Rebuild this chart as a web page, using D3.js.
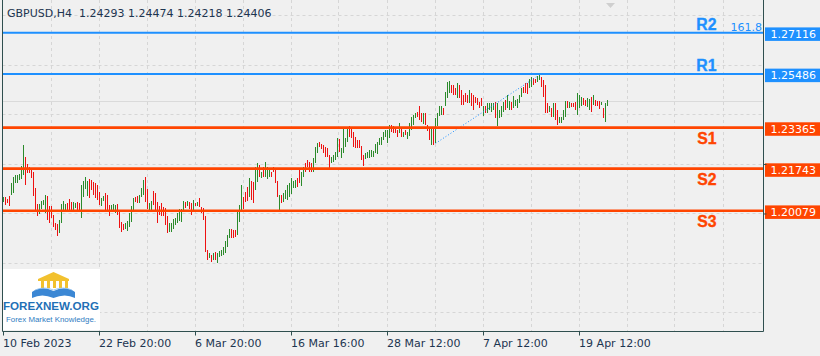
<!DOCTYPE html>
<html><head><meta charset="utf-8">
<script src="https://cdn.jsdelivr.net/npm/d3@7"></script>
<style>
html,body{margin:0;padding:0;background:#f0f0f0;}
svg{display:block;}
</style></head><body>
<svg id="c" width="820" height="356"></svg>
<script>
// ---------- data ----------
const symbolTitle = "GBPUSD,H4";
const lastOHLC = ["1.24293", "1.24474", "1.24218", "1.24406"];
const bidPrice = 1.24406;

const highs = [
1.2064,1.2064,1.2053,1.2067,1.2116,1.2143,1.2149,1.2149,1.2152,1.2185,
1.2267,1.2222,1.2191,1.2182,1.2169,1.2162,1.2096,1.2034,1.2034,1.2046,
1.2050,1.2069,1.2066,1.2026,1.2026,1.1991,1.1958,1.1954,1.1971,1.2034,
1.2046,1.2034,1.2039,1.2054,1.2043,1.2043,1.2039,1.2043,1.2039,1.2109,
1.2126,1.2143,1.2126,1.2133,1.2129,1.2122,1.2118,1.2109,1.2083,1.2057,
1.2067,1.2077,1.2069,1.2030,1.2030,1.2033,1.2030,1.2034,1.2011,1.1964,
1.1954,1.1960,1.1967,1.1998,1.2026,1.2057,1.2064,1.2066,1.2070,1.2096,
1.2129,1.2143,1.2092,1.2037,1.2047,1.2086,1.2077,1.2043,1.2026,1.2037,
1.2021,1.2017,1.1985,1.1960,1.1958,1.1974,1.1978,1.1998,1.2013,1.2013,
1.2047,1.2043,1.2047,1.2043,1.2037,1.2050,1.2039,1.2043,1.2060,1.2024,
1.2017,1.1985,1.1853,1.1840,1.1833,1.1842,1.1846,1.1840,1.1850,1.1853,
1.1866,1.1889,1.1912,1.1935,1.1935,1.1932,1.1932,1.2004,1.2030,1.2109,
1.2064,1.2083,1.2103,1.2136,1.2125,1.2122,1.2182,1.2197,1.2188,1.2162,
1.2182,1.2201,1.2182,1.2175,1.2162,1.2182,1.2175,1.2125,1.2070,1.2070,
1.2079,1.2090,1.2109,1.2118,1.2136,1.2125,1.2129,1.2139,1.2171,1.2162,
1.2182,1.2197,1.2208,1.2201,1.2195,1.2215,1.2261,1.2276,1.2280,1.2270,
1.2267,1.2261,1.2254,1.2228,1.2219,1.2228,1.2239,1.2294,1.2290,1.2254,
1.2338,1.2294,1.2334,1.2341,1.2330,1.2320,1.2301,1.2287,1.2287,1.2263,
1.2228,1.2235,1.2239,1.2248,1.2248,1.2245,1.2271,1.2280,1.2294,1.2301,
1.2320,1.2327,1.2327,1.2347,1.2347,1.2341,1.2338,1.2327,1.2356,1.2334,
1.2320,1.2327,1.2320,1.2355,1.2377,1.2386,1.2395,1.2399,1.2422,1.2395,
1.2396,1.2393,1.2347,1.2335,1.2330,1.2334,1.2374,1.2393,1.2422,1.2420,
1.2413,1.2478,1.2518,1.2522,1.2505,1.2505,1.2492,1.2512,1.2505,1.2485,
1.2465,1.2472,1.2465,1.2485,1.2472,1.2465,1.2458,1.2452,1.2439,1.2452,
1.2420,1.2422,1.2433,1.2435,1.2433,1.2433,1.2439,1.2433,1.2406,1.2420,
1.2439,1.2446,1.2465,1.2443,1.2439,1.2462,1.2446,1.2449,1.2465,1.2492,
1.2498,1.2512,1.2514,1.2527,1.2537,1.2531,1.2527,1.2540,1.2548,1.2537,
1.2525,1.2505,1.2433,1.2420,1.2413,1.2433,1.2433,1.2406,1.2380,1.2380,
1.2406,1.2443,1.2443,1.2439,1.2433,1.2433,1.2439,1.2472,1.2465,1.2458,
1.2452,1.2446,1.2452,1.2449,1.2458,1.2465,1.2446,1.2442,1.2442,1.2439,
1.2413,1.2435,1.24474
];
const lows = [
1.2043,1.2030,1.2037,1.2026,1.2070,1.2077,1.2116,1.2118,1.2129,1.2133,
1.2149,1.2109,1.2156,1.2156,1.2139,1.2067,1.2004,1.1985,1.1994,1.2013,
1.2030,1.1998,1.1971,1.1960,1.1978,1.1945,1.1932,1.1909,1.1919,1.1960,
1.2008,1.2008,1.2004,1.2011,1.2011,1.2011,1.2017,1.2004,1.2004,1.1978,
1.2064,1.2092,1.2066,1.2057,1.2090,1.2070,1.2057,1.2050,1.2030,1.2026,
1.2046,1.2011,1.2004,1.1987,1.2004,1.2004,1.2000,1.1991,1.1941,1.1925,
1.1932,1.1934,1.1929,1.1945,1.1964,1.2004,1.2043,1.2039,1.2039,1.2064,
1.2070,1.2043,1.2013,1.2008,1.2011,1.2030,1.2011,1.1960,1.1991,1.1985,
1.1987,1.1951,1.1921,1.1925,1.1923,1.1934,1.1951,1.1958,1.1968,1.1964,
1.2004,1.2017,1.2026,1.2014,1.1991,1.2004,1.2026,1.2026,1.2024,1.2000,
1.1971,1.1846,1.1813,1.1820,1.1806,1.1813,1.1813,1.1800,1.1823,1.1827,
1.1833,1.1840,1.1866,1.1899,1.1899,1.1899,1.1903,1.1912,1.1964,1.2004,
1.2013,1.2043,1.2047,1.2064,1.2050,1.2039,1.2090,1.2122,1.2143,1.2136,
1.2143,1.2143,1.2133,1.2143,1.2143,1.2162,1.2116,1.2064,1.2008,1.2037,
1.2043,1.2053,1.2050,1.2061,1.2074,1.2096,1.2096,1.2103,1.2116,1.2105,
1.2143,1.2162,1.2182,1.2162,1.2162,1.2162,1.2195,1.2235,1.2261,1.2250,
1.2237,1.2222,1.2219,1.2175,1.2195,1.2201,1.2208,1.2219,1.2241,1.2215,
1.2235,1.2261,1.2280,1.2301,1.2294,1.2261,1.2254,1.2254,1.2254,1.2208,
1.2185,1.2211,1.2215,1.2215,1.2222,1.2222,1.2235,1.2232,1.2267,1.2267,
1.2287,1.2301,1.2276,1.2294,1.2320,1.2316,1.2314,1.2301,1.2314,1.2298,
1.2301,1.2307,1.2290,1.2303,1.2327,1.2347,1.2373,1.2380,1.2367,1.2359,
1.2351,1.2347,1.2323,1.2287,1.2267,1.2267,1.2274,1.2341,1.2382,1.2386,
1.2386,1.2420,1.2452,1.2472,1.2472,1.2465,1.2465,1.2452,1.2452,1.2426,
1.2426,1.2439,1.2433,1.2433,1.2422,1.2406,1.2433,1.2426,1.2413,1.2420,
1.2382,1.2393,1.2395,1.2406,1.2399,1.2406,1.2374,1.2341,1.2374,1.2380,
1.2399,1.2406,1.2413,1.2406,1.2406,1.2413,1.2420,1.2413,1.2433,1.2459,
1.2472,1.2472,1.2469,1.2492,1.2498,1.2505,1.2512,1.2518,1.2525,1.2498,
1.2459,1.2393,1.2393,1.2399,1.2380,1.2380,1.2367,1.2347,1.2354,1.2356,
1.2367,1.2380,1.2413,1.2413,1.2417,1.2417,1.2406,1.2386,1.2413,1.2420,
1.2426,1.2420,1.2417,1.2406,1.2399,1.2426,1.2420,1.2422,1.2409,1.2426,
1.2374,1.2360,1.24218
];
// G = bullish bar, R = bearish bar
const barDirection = (
 "GRRRGGGGGG"+"GRRRRRRRGG"+"GGRRRRRRGG"+"GGRRRGGRRG"+"GGGRRRRRRG"+
 "GRRRGGGRRR"+"RGGGGGRRGG"+"GRRGGRRRRR"+"RRRGGGGGGG"+"GRGRRGRGRR"+
 "RRRGRGRGGG"+"GGGGRRRGGG"+"RRRGRRGGRG"+"RGGGRRRRGR"+"GGGGGGGRRG"+
 "GRRRRGGGRR"+"RRRRGGGGRG"+"GGGRRRRRRR"+"RGGGGGGGGG"+"GGGGRRRRGR"+
 "GRGGGGGRRR"+"GRRRGRGGGG"+"RGGGRRRGRR"+"RRRGRRRRRR"+"GRGGGGRGGG"+
 "GRGGRGGGGG"+"RRRGGRRGGR"+"RRRGRGRRGG"+"GGRGRRRGGG"+"RRGGRGRRRG"+
 "RGG").split("");

const timeLabels = ["10 Feb 2023", "22 Feb 20:00", "6 Mar 20:00", "16 Mar 16:00", "28 Mar 12:00", "7 Apr 12:00", "19 Apr 12:00"];
const timeLabelBar = [0, 48, 96, 144, 192, 240, 288];
const gridEveryBars = 24;

const levelNames = ["R2", "R1", "S1", "S2", "S3"];
const levelValues = [1.27116, 1.25486, 1.23365, 1.21743, 1.20079];
const levelTexts = ["1.27116", "1.25486", "1.23365", "1.21743", "1.20079"];
const levelKinds = ["R", "R", "S", "S", "S"];
const fiboText = "161.8";

const gridPrices = [1.27816, 1.25859, 1.23902, 1.21926, 1.19969, 1.18012, 1.16055];
const priceTickMarks = [1.21926, 1.19969];

const trendBars = [216, 267];
const trendPrices = [1.2274, 1.2540];

const logoTitle = "FOREXNEW.ORG";
const logoSub = "Forex Market Knowledge.";

// ---------- drawing ----------
const svg = d3.select("#c");
const W = 820, H = 356;
const plot = {left: 2.5, right: 763.5, top: 0, bottom: 331.5};
const C = {
  bg: "#f0f0f0", frame: "#2f4f4f", grid: "#d6d6d6", text: "#1d3550",
  up: "#2b8a2b", down: "#ee1111", res: "#1e90ff", sup: "#ff4500"
};

svg.append("rect").attr("width", W).attr("height", H).attr("fill", C.bg);

const x = d3.scaleLinear().domain([0, highs.length - 1]).range([3.5, 3.5 + 2 * (highs.length - 1)]);
const y = d3.scaleLinear().domain([1.15323, 1.28409]).range([331, 0]);

// grid (vertical)
const gridBars = d3.range(gridEveryBars, 361, gridEveryBars).filter(i => x(i) < plot.right - 10);
svg.append("g").selectAll("line").data(gridBars).join("line")
  .attr("x1", d => Math.round(x(d)) - 0.5).attr("x2", d => Math.round(x(d)) - 0.5)
  .attr("y1", 0).attr("y2", plot.bottom)
  .attr("stroke", C.grid).attr("stroke-dasharray", "3,3").attr("stroke-width", 1);
// grid (horizontal)
svg.append("g").selectAll("line").data(gridPrices).join("line")
  .attr("x1", plot.left).attr("x2", plot.right)
  .attr("y1", d => Math.round(y(d)) + 0.5).attr("y2", d => Math.round(y(d)) + 0.5)
  .attr("stroke", C.grid).attr("stroke-dasharray", "3,3").attr("stroke-width", 1);

// bid line
svg.append("line").attr("x1", plot.left).attr("x2", plot.right)
  .attr("y1", Math.round(y(bidPrice)) + 0.5).attr("y2", Math.round(y(bidPrice)) + 0.5)
  .attr("stroke", "#dadada").attr("stroke-width", 1);

// logo
const logo = svg.append("g");
logo.append("rect").attr("x", 3).attr("y", 269).attr("width", 97).attr("height", 61).attr("fill", "#ffffff");
logo.append("polygon").attr("points", "38,279 53.5,272 69,279").attr("fill", "#f2c12e");
logo.append("rect").attr("x", 38).attr("y", 279).attr("width", 31).attr("height", 2).attr("fill", "#f2c12e");
[41, 47, 53, 59, 65].forEach(cx => logo.append("rect").attr("x", cx).attr("y", 281).attr("width", 3).attr("height", 7).attr("fill", "#f2c12e"));
logo.append("path").attr("d", "M32,292 Q42,285 53.5,291 Q65,285 75,292 L75,298 Q65,293 53.5,298 Q42,293 32,298 Z").attr("fill", "#3b87d4");
logo.append("path").attr("d", "M35,290 Q44,286 53.5,290 Q63,286 72,290").attr("fill", "none").attr("stroke", "#8fc0ee").attr("stroke-width", 0.8);
logo.append("text").attr("x", 51).attr("y", 310).attr("text-anchor", "middle")
  .attr("font-family", "Liberation Sans, Arial, sans-serif").attr("font-weight", "bold").attr("font-size", 11.8)
  .attr("textLength", 96).attr("lengthAdjust", "spacingAndGlyphs")
  .attr("fill", "#1f70b6").text(logoTitle);
logo.append("text").attr("x", 51).attr("y", 322).attr("text-anchor", "middle")
  .attr("font-family", "Liberation Sans, Arial, sans-serif").attr("font-size", 7.2)
  .attr("textLength", 90).attr("lengthAdjust", "spacingAndGlyphs")
  .attr("fill", "#2f7cc2").text(logoSub);

// bars
svg.append("g").attr("shape-rendering", "crispEdges").selectAll("rect").data(highs).join("rect")
  .attr("x", (d, i) => Math.round(x(i) - 0.5))
  .attr("y", (d, i) => y(d))
  .attr("width", 1)
  .attr("height", (d, i) => Math.max(1, y(lows[i]) - y(d)))
  .attr("fill", (d, i) => barDirection[i] === "G" ? C.up : C.down);

// trend line (dotted)
svg.append("line")
  .attr("x1", x(trendBars[0])).attr("y1", y(trendPrices[0]))
  .attr("x2", x(trendBars[1])).attr("y2", y(trendPrices[1]))
  .attr("stroke", C.res).attr("stroke-width", 1).attr("stroke-dasharray", "1,2");

// level lines
const lv = svg.append("g");
levelValues.forEach((v, k) => {
  const col = levelKinds[k] === "R" ? C.res : C.sup;
  const yy = y(v);
  lv.append("line").attr("x1", plot.left).attr("x2", plot.right).attr("y1", yy).attr("y2", yy)
    .attr("stroke", col).attr("stroke-width", levelKinds[k] === "R" ? 2 : 2.6);
  lv.append("text").attr("x", 716.5).attr("y", levelKinds[k] === "R" ? yy - 2.8 : yy + 16.5)
    .attr("text-anchor", "end").attr("font-family", "Liberation Sans, Arial, sans-serif")
    .attr("font-weight", "bold").attr("font-size", 15.8).attr("fill", col)
    .attr("stroke", col).attr("stroke-width", 0.35).text(levelNames[k]);
  // price label
  lv.append("rect").attr("x", 765).attr("y", yy - 5.3).attr("width", 55).attr("height", 13.5).attr("fill", col);
  lv.append("text").attr("x", 770.5).attr("y", yy + 5.4)
    .attr("font-family", "DejaVu Sans, sans-serif").attr("font-size", 11).attr("fill", "#ffffff").text(levelTexts[k]);
});
lv.append("text").attr("x", 762).attr("y", y(levelValues[0]) - 2.2).attr("text-anchor", "end")
  .attr("font-family", "DejaVu Sans, sans-serif").attr("font-size", 11).attr("fill", C.res).text(fiboText);

// shift marker
svg.append("polygon").attr("points", "606,3 615,3 610.5,8").attr("fill", "#cfcfcf");

// frame & axes
const yAxis = d3.axisRight(y).tickValues(priceTickMarks).tickSize(3).tickFormat("");
const ga = svg.append("g").attr("transform", `translate(${plot.right},0)`).call(yAxis);
ga.select(".domain").remove();
ga.selectAll("line").attr("stroke", C.frame);

const xAxis = d3.axisBottom(x).tickValues(timeLabelBar).tickSize(4).tickFormat((d, i) => timeLabels[i]);
const gx = svg.append("g").attr("transform", `translate(0,${plot.bottom})`).call(xAxis);
gx.select(".domain").remove();
gx.selectAll(".tick line").attr("stroke", C.frame).attr("transform", "translate(-0.5,0)");
gx.selectAll(".tick text").attr("text-anchor", "start").attr("dx", "-0.9").attr("y", 5).attr("dy", "0.95em")
  .attr("font-family", "DejaVu Sans, sans-serif").attr("font-size", 11).attr("fill", C.text);

svg.append("path").attr("d", `M${plot.left},0 V${plot.bottom} H${plot.right} V0`)
  .attr("fill", "none").attr("stroke", C.frame).attr("stroke-width", 1);

// title
svg.append("text").attr("x", 7).attr("y", 17.3).attr("xml:space", "preserve").style("white-space", "pre")
  .attr("font-family", "DejaVu Sans, sans-serif").attr("font-size", 11).attr("fill", C.text)
  .text(symbolTitle + "  " + lastOHLC.join(" "));
</script>
</body></html>
